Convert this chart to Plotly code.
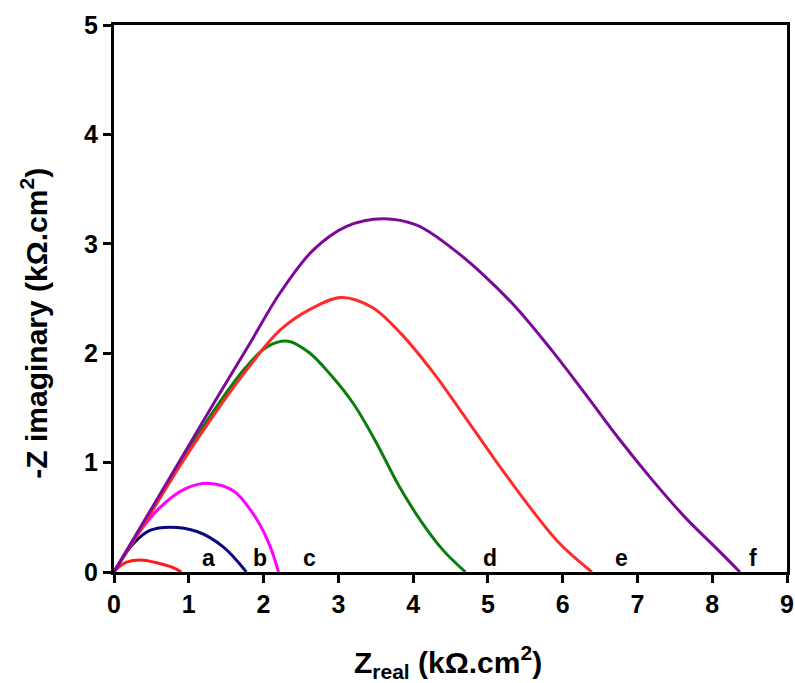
import plotly.graph_objects as go

# Curve a (red, small)
a_x = [0, 0.04, 0.17, 0.35, 0.57, 0.79, 0.90]
a_y = [0, 0.03, 0.09, 0.11, 0.085, 0.04, 0]
# Curve b (navy)
b_x = [0, 0.26, 0.48, 0.75, 1.11, 1.46, 1.77]
b_y = [0, 0.26, 0.38, 0.41, 0.37, 0.23, 0]
# Curve c (magenta)
c_x = [0, 0.30, 0.60, 0.95, 1.28, 1.60, 1.91, 2.09, 2.20]
c_y = [0, 0.33, 0.58, 0.76, 0.81, 0.74, 0.48, 0.23, 0]
# Curve d (green)
d_x = [0, 0.45, 0.90, 1.35, 1.75, 2.05, 2.33, 2.62, 2.90, 3.20, 3.51, 3.80, 4.10, 4.40, 4.70]
d_y = [0, 0.50, 1.01, 1.49, 1.86, 2.06, 2.11, 2.00, 1.80, 1.54, 1.18, 0.80, 0.47, 0.20, 0]
# Curve e (red)
e_x = [0, 0.45, 0.90, 1.35, 1.80, 2.22, 2.62, 3.04, 3.45, 3.85, 4.25, 4.65, 5.07, 5.52, 5.96, 6.39]
e_y = [0, 0.49, 0.99, 1.45, 1.87, 2.21, 2.40, 2.51, 2.42, 2.17, 1.84, 1.46, 1.05, 0.63, 0.26, 0]
# Curve f (purple)
f_x = [0, 0.45, 0.90, 1.35, 1.80, 2.22, 2.66, 3.11, 3.60, 4.05, 4.50, 4.95, 5.40, 5.85, 6.30, 6.75, 7.20, 7.65, 8.05, 8.37]
f_y = [0, 0.52, 1.04, 1.56, 2.07, 2.55, 2.94, 3.16, 3.23, 3.17, 2.97, 2.71, 2.40, 2.03, 1.63, 1.22, 0.84, 0.49, 0.22, 0]

labels = ["a", "b", "c", "d", "e", "f"]
label_x = [1.26, 1.95, 2.62, 5.03, 6.79, 8.54]
label_y = [0.13, 0.13, 0.13, 0.13, 0.13, 0.13]

x_ticks = [0, 1, 2, 3, 4, 5, 6, 7, 8, 9]
y_ticks = [0, 1, 2, 3, 4, 5]

series = [
    (a_x, a_y, "#FF1A1A"),
    (b_x, b_y, "#0A0A80"),
    (c_x, c_y, "#FF00FF"),
    (d_x, d_y, "#0A7D0A"),
    (e_x, e_y, "#FF2A2A"),
    (f_x, f_y, "#7B0A9A"),
]

fig = go.Figure()
for xs, ys, col in series:
    fig.add_trace(go.Scatter(x=xs, y=ys, mode="lines",
                             line=dict(color=col, width=3, shape="spline", smoothing=1.0),
                             showlegend=False, hoverinfo="skip"))

font_main = "Liberation Sans, Arial, sans-serif"
for t, x, y in zip(labels, label_x, label_y):
    fig.add_annotation(x=x, y=y, text=t, showarrow=False,
                       font=dict(family=font_main, size=23, color="black", weight="bold"),
                       xanchor="center", yanchor="middle")

fig.add_annotation(xref="paper", yref="paper", x=-0.118, y=0.455,
                   text="-Z imaginary (kΩ.cm<sup>2</sup>)", textangle=-90,
                   showarrow=False, font=dict(family=font_main, size=30, color="black", weight="bold"),
                   xanchor="center", yanchor="middle")
fig.add_annotation(xref="paper", yref="paper", x=0.496, y=-0.165,
                   text="Z<sub>real</sub> (kΩ.cm<sup>2</sup>)",
                   showarrow=False, font=dict(family=font_main, size=30, color="black", weight="bold"),
                   xanchor="center", yanchor="middle")

axis_common = dict(showgrid=False, zeroline=False, showline=True, linecolor="black",
                   linewidth=3, mirror=True, ticks="outside", ticklen=8, tickwidth=3,
                   tickcolor="black", automargin=False,
                   tickfont=dict(family=font_main, size=25, color="black", weight="bold"))
fig.update_xaxes(range=[0, 9], tickvals=x_ticks, **axis_common)
fig.update_yaxes(range=[0, 5], tickvals=y_ticks, **axis_common)

fig.update_layout(width=795, height=683, margin=dict(l=114, r=8, t=25, b=111),
                  plot_bgcolor="white", paper_bgcolor="white")

# remove the browser's default body margin so the figure fills the window exactly
fig.write_html("out.html", config={"displayModeBar": False},
               post_script="document.body.style.margin='0';document.body.style.overflow='hidden';")
